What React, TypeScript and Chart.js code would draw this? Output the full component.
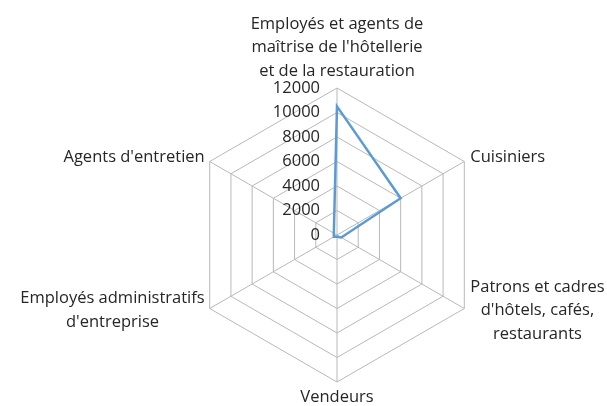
import React, { useEffect, useRef } from "react";
import { Chart, registerables } from "chart.js";

Chart.register(...registerables);

const categories: string[][] = [
  ["Employés et agents de", "maîtrise de l'hôtellerie", "et de la restauration"],
  ["Cuisiniers"],
  ["Patrons et cadres", "d'hôtels, cafés,", "restaurants"],
  ["Vendeurs"],
  ["Employés administratifs", "d'entreprise"],
  ["Agents d'entretien"],
];
const values: number[] = [10500, 6000, 400, 150, 300, 300];
const axisMin = 0;
const axisMax = 12000;
const axisStep = 2000;

const FONT_FAMILY = "'Open Sans', 'Noto Sans', sans-serif";
const TEXT_COLOR = "#262626";
const GRID_COLOR = "#b8b8b8";
const LINE_COLOR = "#5B9BD5";

const labelPlugin = {
  id: "customRadarText",
  afterDraw(chart: any) {
    const scale = chart.scales.r;
    const ctx = chart.ctx as CanvasRenderingContext2D;
    ctx.save();
    ctx.fillStyle = TEXT_COLOR;
    // tick labels
    ctx.font = `16.5px ${FONT_FAMILY}`;
    ctx.textAlign = "right";
    ctx.textBaseline = "middle";
    for (const t of scale.ticks) {
      const d = scale.getDistanceFromCenterForValue(t.value);
      ctx.fillText(String(t.value), scale.xCenter - 17, scale.yCenter - d);
    }
    // point labels
    ctx.font = `16.5px ${FONT_FAMILY}`;
    const lh = 23.5;
    const n = chart.data.labels.length;
    for (let i = 0; i < n; i++) {
      const lines: string[] = chart.data.labels[i];
      const v = scale.getPointPosition(i, scale.drawingArea);
      const widths = lines.map((l) => ctx.measureText(l).width);
      const bw = Math.max(...widths);
      const bh = (lines.length - 1) * lh;
      let cx = v.x;
      let firstY = v.y;
      const dx = v.x - scale.xCenter;
      const dy = v.y - scale.yCenter;
      if (Math.abs(dx) < 1) {
        cx = v.x;
        if (dy < 0) firstY = v.y - 17 - bh;
        else firstY = v.y + 15;
      } else {
        cx = dx > 0 ? v.x + 6 + bw / 2 : v.x - 5 - bw / 2;
        const cy = dy < 0 ? v.y - 4 : v.y + 2;
        firstY = cy - bh / 2;
      }
      ctx.textAlign = "center";
      ctx.textBaseline = "middle";
      lines.forEach((l, k) => ctx.fillText(l, cx, firstY + k * lh));
    }
    ctx.restore();
  },
};

export default function App() {
  const ref = useRef<HTMLCanvasElement>(null);
  useEffect(() => {
    if (!ref.current) return;
    const chart = new Chart(ref.current, {
      type: "radar",
      data: {
        labels: categories as any,
        datasets: [
          {
            data: values,
            borderColor: LINE_COLOR,
            backgroundColor: "transparent",
            borderWidth: 2.5,
            pointRadius: 0,
            fill: false,
            tension: 0,
          },
        ],
      },
      options: {
        responsive: false,
        animation: false,
        layout: { padding: { left: 190, top: 88, right: 123, bottom: 24 } },
        plugins: { legend: { display: false }, tooltip: { enabled: false } },
        scales: {
          r: {
            min: axisMin,
            max: axisMax,
            ticks: { stepSize: axisStep, display: false },
            pointLabels: { display: false },
            grid: { color: GRID_COLOR, lineWidth: 1 },
            angleLines: { color: GRID_COLOR, lineWidth: 1 },
          },
        },
      },
      plugins: [labelPlugin],
    });
    return () => chart.destroy();
  }, []);
  return (
    <div style={{ position: "absolute", left: 0, top: 0, width: 607, height: 406, background: "#fff" }}>
      <canvas ref={ref} width={607} height={406} />
    </div>
  );
}
